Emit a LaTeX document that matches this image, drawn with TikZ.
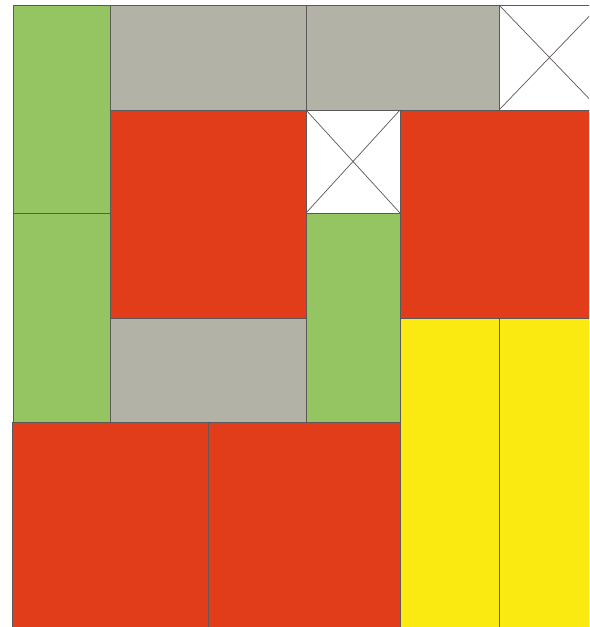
\documentclass[tikz,border=0pt]{standalone}
\usepackage{xcolor}
\usepackage{tikz}
\definecolor{tilegreen}{RGB}{149,196,98}
\definecolor{tilegray}{RGB}{178,178,166}
\definecolor{tilered}{RGB}{226,61,26}
\definecolor{tileyellow}{RGB}{251,234,18}
\definecolor{edgegray}{RGB}{95,88,88}
\tikzset{
  tile/.style={draw=edgegray, line width=0.6pt},
  greentile/.style={tile, fill=tilegreen},
  graytile/.style={tile, fill=tilegray},
  redtile/.style={tile, fill=tilered},
  yellowtile/.style={tile, fill=tileyellow},
  emptytile/.style={tile, fill=white}
}
\begin{document}
\begin{tikzpicture}[x=0.03cm, y=-0.03cm]
  \useasboundingbox (0,0) rectangle (589,627);
  \clip (0,0) rectangle (589,627);
  % Green bars on the left
  \draw[greentile] (13,5) rectangle (110,213);
  \draw[greentile] (13,213) rectangle (110,422);
  % Gray bars in the top row
  \draw[graytile] (110,5) rectangle (306,110);
  \draw[graytile] (306,5) rectangle (499,110);
  % Big red squares
  \draw[redtile] (110,110) rectangle (306,318);
  \draw[redtile] (400,110) rectangle (600,318);
  % Gray bar and green bar in the middle
  \draw[graytile] (110,318) rectangle (306,422);
  \draw[greentile] (306,213) rectangle (400,422);
  % Yellow bars
  \foreach \x/\xx in {400/499, 499/600} {
    \draw[yellowtile] (\x,318) rectangle (\xx,640);
  }
  % Red squares at the bottom
  \foreach \x/\xx in {12/208, 208/400} {
    \draw[redtile] (\x,422) rectangle (\xx,640);
  }
  % Empty cells crossed out
  \foreach \x/\y/\xx/\yy in {306/110/400/213, 499/5/600/110} {
    \draw[emptytile] (\x,\y) rectangle (\xx,\yy);
    \draw[tile] (\x,\y) -- (\xx,\yy) (\x,\yy) -- (\xx,\y);
  }
\end{tikzpicture}
\end{document}
